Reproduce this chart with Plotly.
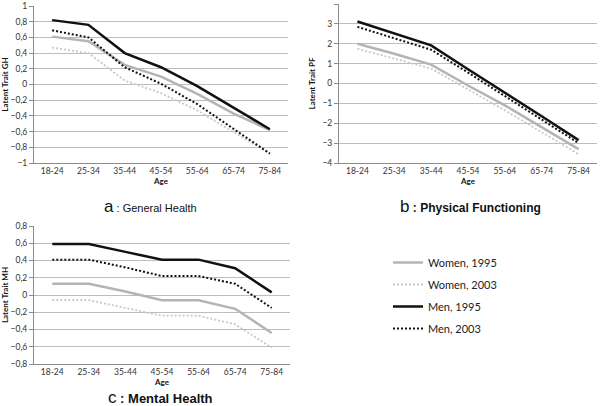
import plotly.graph_objects as go

ages = ["18-24", "25-34", "35-44", "45-54", "55-64", "65-74", "75-84"]

# Panel a: General Health
gh_women_1995 = [0.61, 0.55, 0.25, 0.10, -0.12, -0.37, -0.58]
gh_women_2003 = [0.47, 0.40, 0.05, -0.11, -0.33, -0.60, -0.88]
gh_men_1995 = [0.82, 0.76, 0.40, 0.22, -0.02, -0.30, -0.57]
gh_men_2003 = [0.69, 0.60, 0.22, 0.01, -0.25, -0.57, -0.88]

# Panel b: Physical Functioning
pf_women_1995 = [2.0, 1.5, 0.95, -0.1, -1.1, -2.2, -3.3]
pf_women_2003 = [1.75, 1.25, 0.75, -0.3, -1.35, -2.45, -3.55]
pf_men_1995 = [3.12, 2.5, 1.92, 0.72, -0.45, -1.65, -2.85]
pf_men_2003 = [2.85, 2.28, 1.7, 0.55, -0.62, -1.82, -3.0]

# Panel c: Mental Health
mh_women_1995 = [0.13, 0.13, 0.04, -0.06, -0.06, -0.16, -0.44]
mh_women_2003 = [-0.06, -0.06, -0.15, -0.24, -0.24, -0.34, -0.61]
mh_men_1995 = [0.59, 0.59, 0.50, 0.41, 0.41, 0.31, 0.03]
mh_men_2003 = [0.41, 0.41, 0.32, 0.22, 0.22, 0.13, -0.15]

series_names = ["Women, 1995", "Women, 2003", "Men, 1995", "Men, 2003"]
styles = [
    dict(color="#b4b4b4", width=2.5, dash="solid"),
    dict(color="#c8c8c8", width=1.8, dash="2px,2px"),
    dict(color="#111111", width=2.5, dash="solid"),
    dict(color="#111111", width=2.0, dash="2px,2px"),
]

panels = [
    ("x", "y", [gh_women_1995, gh_women_2003, gh_men_1995, gh_men_2003]),
    ("x2", "y2", [pf_women_1995, pf_women_2003, pf_men_1995, pf_men_2003]),
    ("x3", "y3", [mh_women_1995, mh_women_2003, mh_men_1995, mh_men_2003]),
]

fig = go.Figure()
for pi, (xa, ya, data) in enumerate(panels):
    for si, vals in enumerate(data):
        fig.add_trace(go.Scatter(
            x=ages, y=vals, mode="lines", name=series_names[si],
            line=styles[si], xaxis=xa, yaxis=ya,
            showlegend=(pi == 0), legendgroup=series_names[si],
        ))

W, H = 600, 406
def px(x0, x1):
    return [x0 / W, x1 / W]
def py(top, bottom):
    return [1 - bottom / H, 1 - top / H]

tickfont = dict(family="Lato, Open Sans, sans-serif", size=8.5, color="#333333")
titlefont = dict(family="Lato, Open Sans, sans-serif", size=8, color="#111111")

def xax(domain, anchor):
    return dict(domain=domain, anchor=anchor, type="category", range=[-0.5, 6.5],
                showgrid=False, showline=True, linecolor="#8c8c8c", linewidth=1,
                ticks="", tickfont=tickfont, ticklen=0, automargin=False,
                title=dict(text="<b>Age</b>", font=titlefont, standoff=2))

def yax(domain, anchor, rng, dtick, title):
    return dict(domain=domain, anchor=anchor, range=rng, dtick=dtick,
                showgrid=True, gridcolor="#bdbdbd", gridwidth=1,
                showline=True, linecolor="#8c8c8c", linewidth=1,
                ticks="outside", ticklen=4, tickcolor="#8c8c8c",
                zeroline=False, tickfont=tickfont, automargin=False,
                title=dict(text="<b>" + title + "</b>", font=titlefont, standoff=5))

fig.update_layout(
    width=W, height=H, margin=dict(l=0, r=0, t=0, b=0),
    paper_bgcolor="white", plot_bgcolor="white",
    separators=",.",
    xaxis=xax(px(34, 288), "y"),
    yaxis=yax(py(6, 163), "x", [-1, 1], 0.2, "Latent Trait GH"),
    xaxis2=xax(px(339, 597), "y2"),
    yaxis2=yax(py(4, 163), "x2", [-4, 4], 1, "Latent Trait PF"),
    xaxis3=xax(px(34, 290), "y3"),
    yaxis3=yax(py(226, 364), "x3", [-0.8, 0.8], 0.2, "Latent Trait MH"),
    legend=dict(x=388 / W, y=1 - 248 / H, xanchor="left", yanchor="top",
                font=dict(family="Lato, Open Sans, sans-serif", size=11, color="#222222"),
                tracegroupgap=3, itemwidth=30, bgcolor="rgba(0,0,0,0)"),
    showlegend=True,
)

captions = [
    (150, 206, "<span style='font-size:17px'>a</span> : General Health",
     "Liberation Sans Narrow, Liberation Sans, Arial, sans-serif", 11),
    (470, 206, "<span style='font-size:17px;font-weight:normal'>b</span><b> : Physical Functioning</b>",
     "Liberation Sans, Arial, sans-serif", 12),
    (160, 397, "<span style='font-size:17px'>c</span><b> : Mental Health</b>",
     "Liberation Sans, Arial, sans-serif", 13),
]
for cx, cy, txt, fam, sz in captions:
    fig.add_annotation(x=cx / W, y=1 - cy / H, xref="paper", yref="paper",
                       text=txt, showarrow=False,
                       font=dict(family=fam, size=sz, color="#111111"),
                       xanchor="center", yanchor="middle")

fig.write_html("out.html", config={"displayModeBar": False},
               post_script="document.body.style.margin='0';document.body.style.padding='0';")
